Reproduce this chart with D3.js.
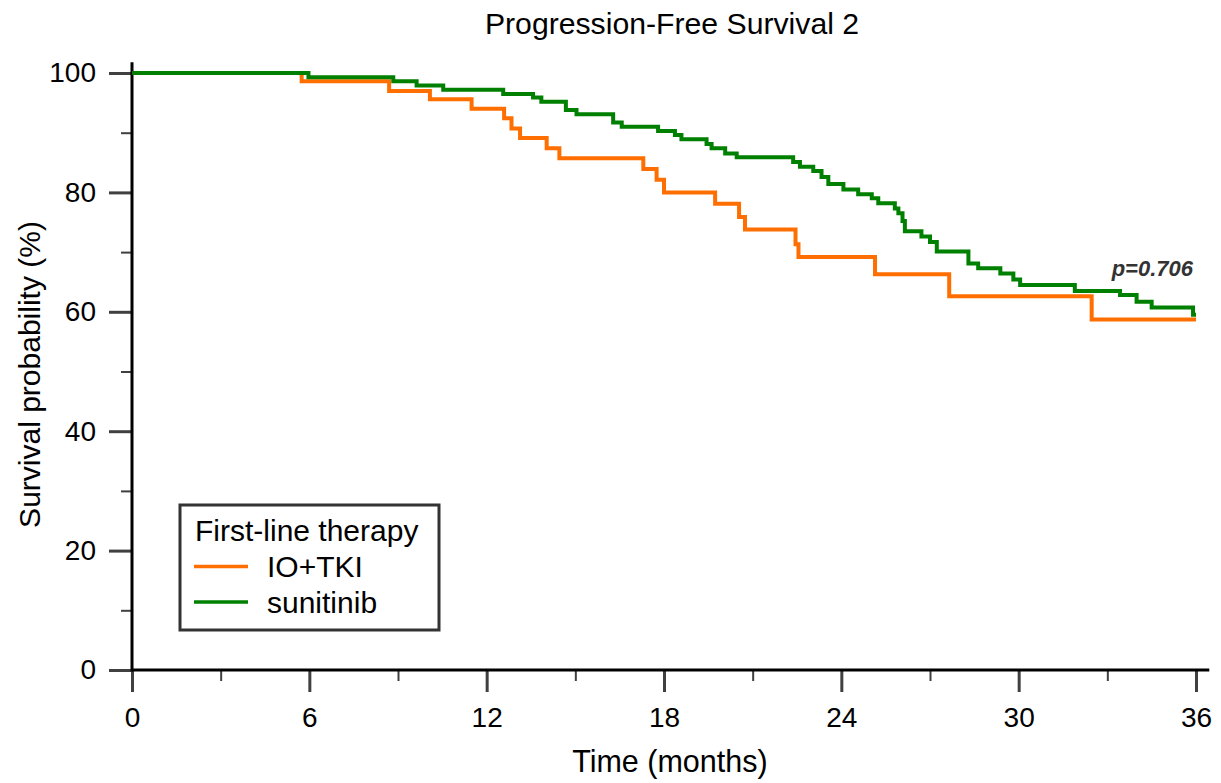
<!DOCTYPE html>
<html>
<head>
<meta charset="utf-8">
<script src="https://cdn.jsdelivr.net/npm/d3@7"></script>
<style>
  html, body { margin: 0; padding: 0; background: #fff; }
  svg { display: block; }
  text { font-family: "Liberation Sans", Arial, sans-serif; }
</style>
</head>
<body>
<svg id="chart" width="1221" height="783"></svg>
<script>
// ---- Data ----
const title = "Progression-Free Survival 2";
const xLabel = "Time (months)";
const yLabel = "Survival probability (%)";
const legendTitle = "First-line therapy";
const seriesNames = ["IO+TKI", "sunitinib"];
const pValue = "p=0.706";

const xTicks = [0, 6, 12, 18, 24, 30, 36];
const xMinorTicks = [3, 9, 15, 21, 27, 33];
const yTicks = [0, 20, 40, 60, 80, 100];
const yMinorTicks = [10, 30, 50, 70, 90];

const ioTkiTime = [0, 5.74, 8.7, 10.08, 11.49, 12.59, 12.84, 13.13, 14.03, 14.46, 17.30, 17.75, 18.0, 19.73, 20.54, 20.74, 22.45, 22.55, 25.14, 27.65, 32.47, 36];
const ioTkiSurv = [100, 98.6, 97.0, 95.6, 94.0, 92.4, 90.7, 89.1, 87.4, 85.7, 83.9, 82.1, 80.0, 78.1, 75.9, 73.8, 71.3, 69.2, 66.3, 62.6, 58.7, 58.7];

const sunitinibTime = [0, 5.97, 8.84, 9.63, 10.53, 12.56, 13.57, 13.85, 14.68, 15.04, 16.28, 16.57, 17.80, 18.37, 18.59, 19.44, 19.61, 20.07, 20.46, 22.37, 22.6, 23.05, 23.33, 23.56, 24.07, 24.57, 25.03, 25.25, 25.81, 25.93, 26.07, 26.15, 26.71, 27.0, 27.23, 28.3, 28.63, 29.38, 29.82, 30.05, 31.9, 33.43, 33.99, 34.5, 35.9, 36];
const sunitinibSurv = [100, 99.3, 98.6, 97.9, 97.2, 96.5, 95.9, 95.2, 93.8, 93.1, 91.7, 91.0, 90.3, 89.6, 88.9, 88.1, 87.4, 86.5, 85.9, 85.1, 84.3, 83.6, 82.6, 81.4, 80.5, 79.7, 79.0, 78.2, 77.3, 76.5, 75.2, 73.5, 72.6, 71.7, 70.1, 68.1, 67.3, 66.4, 65.4, 64.5, 63.5, 62.8, 61.7, 60.7, 59.5, 59.5];

const colors = ["#ff6e00", "#008000"];

// ---- Layout ----
const svg = d3.select("#chart");
const x = d3.scaleLinear().domain([0, 36]).range([132, 1196]);
const y = d3.scaleLinear().domain([0, 100]).range([670, 73]);
const xAxisEnd = 36.45, yAxisEnd = 101.8;

// Title
svg.append("text").attr("x", 672).attr("y", 34).attr("text-anchor", "middle")
  .attr("font-size", 30.2).attr("fill", "#000").text(title);

// Ticks via d3 axes
const tickColor = "#404040";
const gx = svg.append("g").attr("transform", `translate(0,${y(0)})`);
gx.call(d3.axisBottom(x).tickValues(xMinorTicks).tickSize(11).tickFormat(""));
const gx2 = svg.append("g").attr("transform", `translate(0,${y(0)})`);
gx2.call(d3.axisBottom(x).tickValues(xTicks).tickSize(22).tickPadding(15).tickFormat(d3.format("d")));
const gy = svg.append("g").attr("transform", `translate(${x(0)},0)`);
gy.call(d3.axisLeft(y).tickValues(yMinorTicks).tickSize(11).tickFormat(""));
const gy2 = svg.append("g").attr("transform", `translate(${x(0)},0)`);
gy2.call(d3.axisLeft(y).tickValues(yTicks).tickSize(23).tickPadding(13).tickFormat(d3.format("d")));

[gx, gx2, gy, gy2].forEach(g => {
  g.select(".domain").remove();
  g.selectAll(".tick line").attr("stroke", tickColor);
});
[gx, gy].forEach(g => g.selectAll(".tick line").attr("stroke-width", 2));
[gx2, gy2].forEach(g => g.selectAll(".tick line").attr("stroke-width", 3));
[gx2, gy2].forEach(g => g.selectAll(".tick text")
  .attr("font-size", 28).attr("fill", "#000")
  .attr("font-family", '"Liberation Sans", Arial, sans-serif'));

// Axis lines
svg.append("line").attr("x1", x(0)).attr("x2", x(xAxisEnd)).attr("y1", y(0)).attr("y2", y(0))
  .attr("stroke", "#000").attr("stroke-width", 3);
svg.append("line").attr("x1", x(0)).attr("x2", x(0)).attr("y1", y(0) + 1.5).attr("y2", y(yAxisEnd))
  .attr("stroke", "#000").attr("stroke-width", 3);

// Axis titles
svg.append("text").attr("x", x(18.2)).attr("y", 772).attr("text-anchor", "middle")
  .attr("font-size", 30.5).attr("fill", "#000").text(xLabel);
svg.append("text").attr("transform", `translate(40,${y(49.5)}) rotate(-90)`)
  .attr("text-anchor", "middle").attr("font-size", 30).attr("fill", "#000").text(yLabel);

// Curves
const line = d3.line().x(d => x(d[0])).y(d => y(d[1])).curve(d3.curveStepAfter);
const series = [
  d3.zip(ioTkiTime, ioTkiSurv),
  d3.zip(sunitinibTime, sunitinibSurv)
];
series.forEach((pts, i) => {
  svg.append("path").datum(pts).attr("d", line)
    .attr("fill", "none").attr("stroke", colors[i]).attr("stroke-width", 4)
    .attr("stroke-linejoin", "miter").attr("stroke-linecap", "butt");
});

// p-value
svg.append("text").attr("x", 1193).attr("y", 276).attr("text-anchor", "end")
  .attr("font-family", '"Open Sans", sans-serif').attr("font-weight", "bold")
  .attr("font-style", "italic").attr("font-size", 22).attr("fill", "#333").text(pValue);

// Legend
const lg = svg.append("g");
lg.append("rect").attr("x", 180).attr("y", 505).attr("width", 259).attr("height", 125)
  .attr("fill", "#fff").attr("stroke", "#333").attr("stroke-width", 3);
lg.append("text").attr("x", 195).attr("y", 541).attr("font-size", 30).attr("fill", "#000").text(legendTitle);
seriesNames.forEach((name, i) => {
  const yy = 566.5 + i * 35.5;
  lg.append("line").attr("x1", 194).attr("x2", 248).attr("y1", yy).attr("y2", yy)
    .attr("stroke", colors[i]).attr("stroke-width", 3.5);
  lg.append("text").attr("x", 267).attr("y", yy + 10.5).attr("font-size", 30)
    .attr("fill", "#000").text(name);
});
</script>
</body>
</html>
